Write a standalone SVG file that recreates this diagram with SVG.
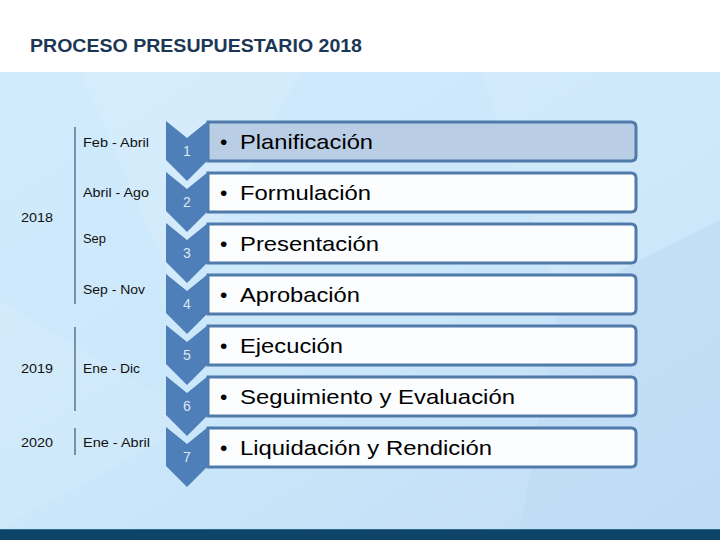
<svg xmlns="http://www.w3.org/2000/svg" width="720" height="540" viewBox="0 0 720 540">
  <style>
    .title { font-family: "Liberation Sans", Arial, sans-serif; font-weight: bold; font-size: 19px; fill: #1c3756; }
    .lbl { font-family: "Liberation Sans", Arial, sans-serif; font-size: 13px; fill: #111; }
    .num { font-family: "Liberation Sans", Arial, sans-serif; font-size: 14px; fill: #dce6f2; text-anchor: middle; }
    .txt { font-family: "Liberation Sans", Arial, sans-serif; font-size: 21px; fill: #000; }
    .chev { fill: #4f7fb8; }
    .box { fill: #fbfdff; stroke: #4f7aaa; stroke-width: 3; }
    .box1 { fill: #b9cde5; stroke: #4f7aaa; stroke-width: 3; }
    .bar { stroke: #5b7390; stroke-width: 1.5; fill: none; }
  </style>
  <defs>
    <linearGradient id="bg" x1="0" y1="0" x2="1" y2="1">
      <stop offset="0" stop-color="#d0ebfc"/>
      <stop offset="0.5" stop-color="#cbe7fa"/>
      <stop offset="1" stop-color="#c2ddf6"/>
    </linearGradient>
    <linearGradient id="boxg" x1="0" y1="0" x2="0" y2="1">
      <stop offset="0" stop-color="#ffffff"/>
      <stop offset="1" stop-color="#f3f9fe"/>
    </linearGradient>
  </defs>

  <!-- background -->
  <rect x="0" y="0" width="720" height="540" fill="#ffffff"/>
  <rect x="0" y="72" width="720" height="457" fill="url(#bg)"/>
  <polygon points="80,72 300,72 180,300" fill="#ffffff" opacity="0.12"/>
  <polygon points="480,72 720,72 720,220 560,300" fill="#ffffff" opacity="0.1"/>
  <polygon points="560,300 720,220 720,529 520,529" fill="#b9d6f3" opacity="0.35"/>
  <polygon points="0,300 200,420 0,529" fill="#ffffff" opacity="0.1"/>
  <rect x="0" y="529" width="720" height="11" fill="#0e4468"/>
  <rect x="0" y="529" width="720" height="1" fill="#2f6a8e"/>

  <text class="title" x="30" y="52" textLength="332" lengthAdjust="spacingAndGlyphs">PROCESO PRESUPUESTARIO 2018</text>

  <!-- timeline brackets -->
  <g id="years">
    <line class="bar" x1="75" y1="127" x2="75" y2="304"/>
    <line class="bar" x1="75" y1="327" x2="75" y2="411"/>
    <line class="bar" x1="75" y1="428" x2="75" y2="455"/>
    <text class="lbl" x="21" y="222" textLength="32" lengthAdjust="spacingAndGlyphs">2018</text>
    <text class="lbl" x="21" y="373" textLength="32" lengthAdjust="spacingAndGlyphs">2019</text>
    <text class="lbl" x="21" y="447" textLength="32" lengthAdjust="spacingAndGlyphs">2020</text>
  </g>

  <g id="periods">
    <text class="lbl" x="83" y="147" textLength="66" lengthAdjust="spacingAndGlyphs">Feb - Abril</text>
    <text class="lbl" x="83" y="197" textLength="66" lengthAdjust="spacingAndGlyphs">Abril - Ago</text>
    <text class="lbl" x="83" y="243" textLength="23" lengthAdjust="spacingAndGlyphs">Sep</text>
    <text class="lbl" x="83" y="294" textLength="62" lengthAdjust="spacingAndGlyphs">Sep - Nov</text>
    <text class="lbl" x="83" y="373" textLength="57" lengthAdjust="spacingAndGlyphs">Ene - Dic</text>
    <text class="lbl" x="83" y="447" textLength="67" lengthAdjust="spacingAndGlyphs">Ene - Abril</text>
  </g>

  <!-- steps -->
  <g id="step1">
    <path class="box1" d="M208,122 H631 Q636,122 636,127 V156 Q636,161 631,161 H208 Z"/>
    <polygon class="chev" points="166,121 187,138 208,121 208,160 187,181 166,160"/>
    <text class="num" x="187" y="156">1</text>
    <text class="txt" x="220" y="149">•<tspan x="240" textLength="133" lengthAdjust="spacingAndGlyphs">Planificación</tspan></text>
  </g>
  <g id="step2">
    <path class="box" d="M208,173 H631 Q636,173 636,178 V207 Q636,212 631,212 H208 Z"/>
    <polygon class="chev" points="166,172 187,189 208,172 208,211 187,232 166,211"/>
    <text class="num" x="187" y="207">2</text>
    <text class="txt" x="220" y="200">•<tspan x="240" textLength="131" lengthAdjust="spacingAndGlyphs">Formulación</tspan></text>
  </g>
  <g id="step3">
    <path class="box" d="M208,224 H631 Q636,224 636,229 V258 Q636,263 631,263 H208 Z"/>
    <polygon class="chev" points="166,223 187,240 208,223 208,262 187,283 166,262"/>
    <text class="num" x="187" y="258">3</text>
    <text class="txt" x="220" y="251">•<tspan x="240" textLength="139" lengthAdjust="spacingAndGlyphs">Presentación</tspan></text>
  </g>
  <g id="step4">
    <path class="box" d="M208,275 H631 Q636,275 636,280 V309 Q636,314 631,314 H208 Z"/>
    <polygon class="chev" points="166,274 187,291 208,274 208,313 187,334 166,313"/>
    <text class="num" x="187" y="309">4</text>
    <text class="txt" x="220" y="302">•<tspan x="240" textLength="120" lengthAdjust="spacingAndGlyphs">Aprobación</tspan></text>
  </g>
  <g id="step5">
    <path class="box" d="M208,326 H631 Q636,326 636,331 V360 Q636,365 631,365 H208 Z"/>
    <polygon class="chev" points="166,325 187,342 208,325 208,364 187,385 166,364"/>
    <text class="num" x="187" y="360">5</text>
    <text class="txt" x="220" y="353">•<tspan x="240" textLength="103" lengthAdjust="spacingAndGlyphs">Ejecución</tspan></text>
  </g>
  <g id="step6">
    <path class="box" d="M208,377 H631 Q636,377 636,382 V411 Q636,416 631,416 H208 Z"/>
    <polygon class="chev" points="166,376 187,393 208,376 208,415 187,436 166,415"/>
    <text class="num" x="187" y="411">6</text>
    <text class="txt" x="220" y="404">•<tspan x="240" textLength="275" lengthAdjust="spacingAndGlyphs">Seguimiento y Evaluación</tspan></text>
  </g>
  <g id="step7">
    <path class="box" d="M208,428 H631 Q636,428 636,433 V462 Q636,467 631,467 H208 Z"/>
    <polygon class="chev" points="166,427 187,444 208,427 208,466 187,487 166,466"/>
    <text class="num" x="187" y="462">7</text>
    <text class="txt" x="220" y="455">•<tspan x="240" textLength="252" lengthAdjust="spacingAndGlyphs">Liquidación y Rendición</tspan></text>
  </g>

  <g id="connectors"></g>
</svg>
